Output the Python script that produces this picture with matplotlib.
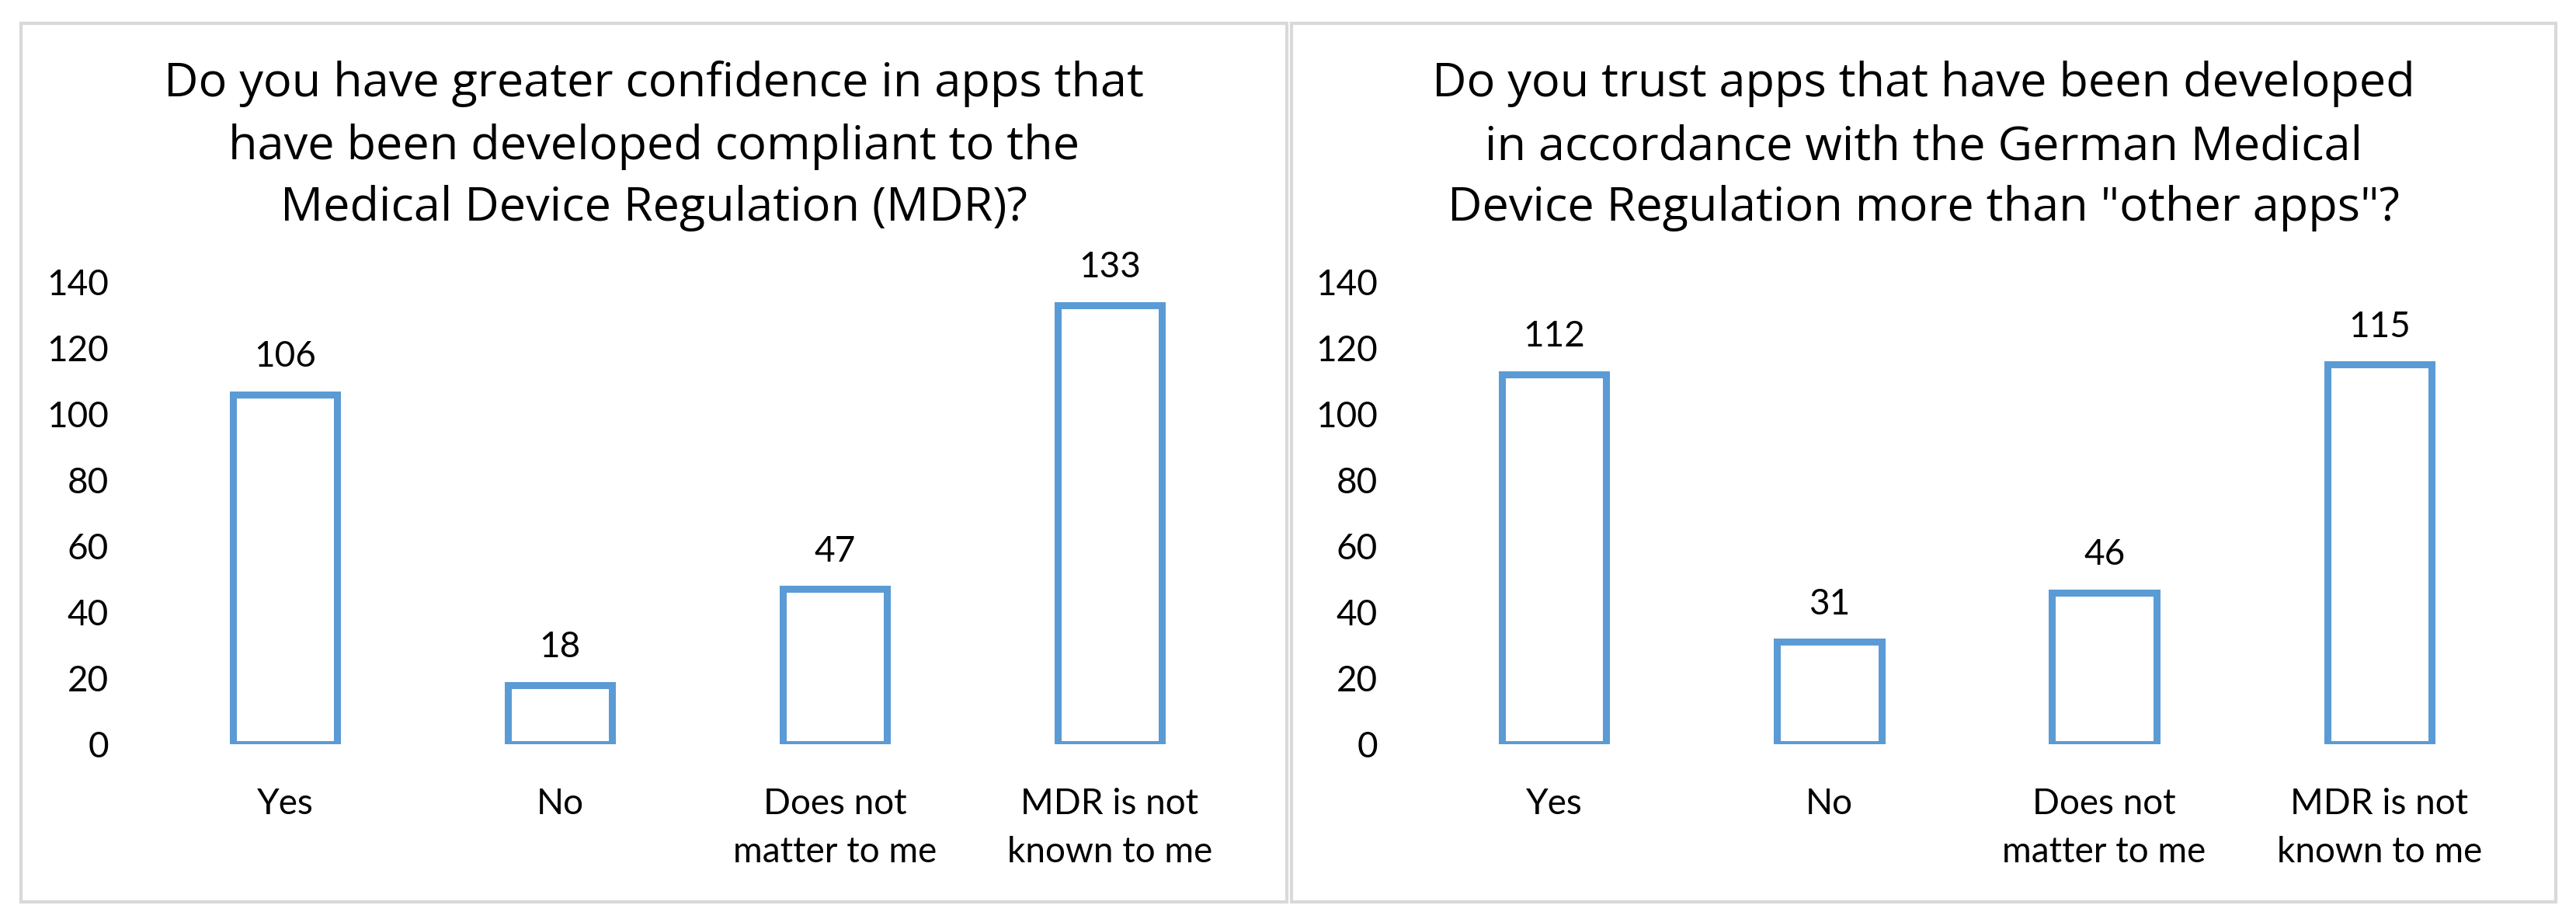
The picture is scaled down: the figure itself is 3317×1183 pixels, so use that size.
import matplotlib
matplotlib.use("Agg")
import matplotlib.pyplot as plt
from matplotlib.patches import Rectangle

plt.rcParams['font.family'] = ['Lato', 'DejaVu Sans']

# ---- data ----
categories = ["Yes", "No", "Does not\nmatter to me", "MDR is not\nknown to me"]
values_left = [106, 18, 47, 133]
values_right = [112, 31, 46, 115]
title_left = ["Do you have greater confidence in apps that",
              "have been developed compliant to the",
              "Medical Device Regulation (MDR)?"]
title_right = ["Do you trust apps that have been developed",
               "in accordance with the German Medical",
               "Device Regulation more than \"other apps\"?"]
yticks = [0, 20, 40, 60, 80, 100, 120, 140]

W, H = 3317, 1183
DPI = 100
fig = plt.figure(figsize=(W / DPI, H / DPI), dpi=DPI)
fig.patch.set_facecolor("white")

BAR_COLOR = "#5B9BD5"
BORDER = "#D9D9D9"
TITLE_FAMILY = ['Open Sans', 'DejaVu Sans']

panels = [
    ((27, 1657), (190, 1606), values_left, title_left),
    ((1663, 3291), (1824, 3241), values_right, title_right),
]

y_top_px, y_bot_px = 363, 958
box_top, box_bot = 30, 1161
title_baselines = [124, 205, 284]

# fit title font so the first title line is ~1263 px wide, as in the reference
renderer = fig.canvas.get_renderer()
probe = fig.text(0, 0, title_left[0], fontsize=41, family=TITLE_FAMILY)
w41 = probe.get_window_extent(renderer).width
probe.remove()
title_size = 41 * 1263 / w41
title_size = max(38, min(46, title_size))

for (bx0, bx1), (ax0, ax1), vals, tlines in panels:
    fig.patches.append(Rectangle((bx0 / W, 1 - box_bot / H), (bx1 - bx0) / W,
                                 (box_bot - box_top) / H, transform=fig.transFigure,
                                 fill=False, edgecolor=BORDER, linewidth=3.0))
    ax = fig.add_axes([ax0 / W, 1 - y_bot_px / H, (ax1 - ax0) / W,
                       (y_bot_px - y_top_px) / H])
    ax.set_facecolor("none")
    x = list(range(len(categories)))
    ax.bar(x, vals, width=0.38, facecolor="white", edgecolor=BAR_COLOR,
           linewidth=6.5)
    ax.set_xlim(-0.5, len(categories) - 0.5)
    ax.set_ylim(0, 140)
    ax.set_yticks(yticks)
    ax.set_yticklabels([str(t) for t in yticks], fontsize=33)
    ax.set_xticks(x)
    ax.set_xticklabels(categories, fontsize=33, linespacing=1.6)
    ax.tick_params(axis="y", length=0, pad=36)
    ax.tick_params(axis="x", length=0, pad=40)
    for s in ax.spines.values():
        s.set_visible(False)
    for xi, v in zip(x, vals):
        ax.annotate(str(v), (xi, v), xytext=(0, 35), textcoords="offset points",
                    ha="center", va="center", fontsize=33)
    cx = (bx0 + bx1) / 2 / W
    for line, yb in zip(tlines, title_baselines):
        fig.text(cx, 1 - yb / H, line, ha="center", va="baseline",
                 fontsize=title_size, family=TITLE_FAMILY)

fig.savefig("out.png", dpi=DPI, facecolor="white")
